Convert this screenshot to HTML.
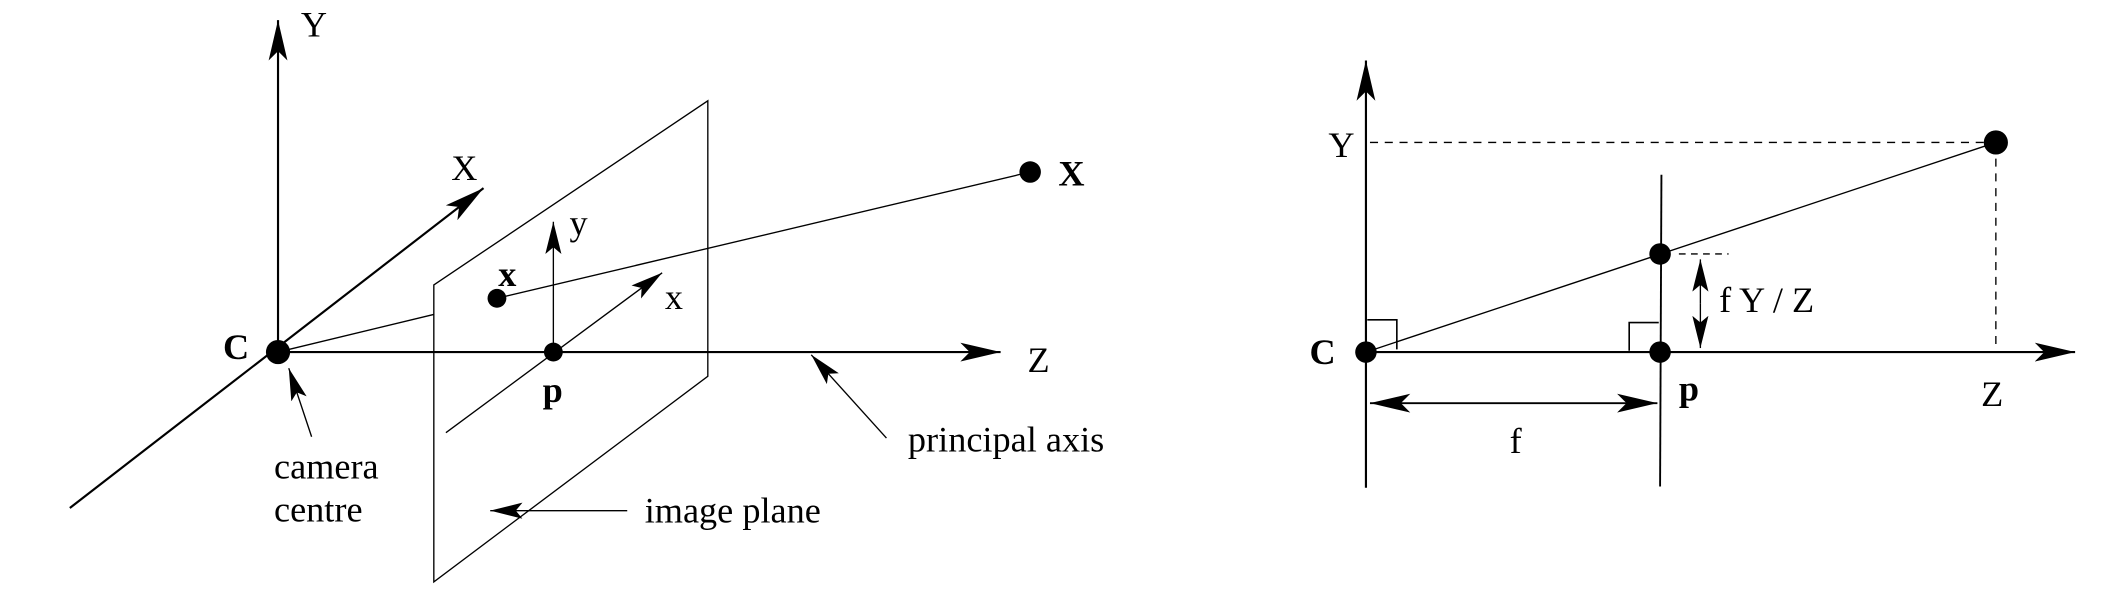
<!DOCTYPE html>
<html><head><meta charset="utf-8"><style>
html,body{margin:0;padding:0;background:#fff;}
svg{display:block;}
text{font-family:"Liberation Serif",serif;fill:#000;}
</style></head><body>
<svg width="2106" height="598" viewBox="0 0 1568 445" preserveAspectRatio="none" xmlns="http://www.w3.org/2000/svg">
<defs>
<marker id="ah" viewBox="0 0 30 14" refX="30" refY="7" markerWidth="30" markerHeight="14" markerUnits="userSpaceOnUse" orient="auto">
<path d="M0,0 L30,7 L0,14 L7,7 Z" fill="#000"/></marker>
<marker id="ahs" viewBox="0 0 24 12" refX="24" refY="6" markerWidth="24" markerHeight="12" markerUnits="userSpaceOnUse" orient="auto">
<path d="M0,0 L24,6 L0,12 L5,6 Z" fill="#000"/></marker>
<marker id="ahst" viewBox="0 0 30 14" refX="0" refY="7" markerWidth="30" markerHeight="14" markerUnits="userSpaceOnUse" orient="auto">
<path d="M30,0 L0,7 L30,14 L23,7 Z" fill="#000"/></marker>
</defs>

<g>
<polygon points="323,212 527,75 527,280 323,433" fill="none" stroke="#000" stroke-width="1"/>
<line x1="207" y1="262" x2="207" y2="15" stroke="#000" stroke-width="1.6" marker-end="url(#ah)"/>
<line x1="52" y1="378" x2="360" y2="140" stroke="#000" stroke-width="1.6" marker-end="url(#ah)"/>
<line x1="207" y1="262" x2="745" y2="262" stroke="#000" stroke-width="1.6" marker-end="url(#ah)"/>
<line x1="207" y1="262" x2="323" y2="234" stroke="#000" stroke-width="1"/>
<line x1="370" y1="222" x2="767" y2="128" stroke="#000" stroke-width="1"/>
<line x1="412" y1="262" x2="412" y2="165" stroke="#000" stroke-width="1" marker-end="url(#ahs)"/>
<line x1="332" y1="322" x2="493" y2="203" stroke="#000" stroke-width="1" marker-end="url(#ahs)"/>
<line x1="232" y1="325" x2="215" y2="274" stroke="#000" stroke-width="1" marker-end="url(#ahs)"/>
<line x1="660" y1="326" x2="604" y2="264" stroke="#000" stroke-width="1" marker-end="url(#ahs)"/>
<line x1="467" y1="380" x2="365" y2="380" stroke="#000" stroke-width="1" marker-end="url(#ahs)"/>
<circle cx="207" cy="262" r="9" fill="#000"/>
<circle cx="412" cy="262" r="7" fill="#000"/>
<circle cx="370" cy="222" r="7" fill="#000"/>
<circle cx="767" cy="128" r="8" fill="#000"/>
<text x="224" y="27" font-size="27">Y</text>
<text x="336" y="134" font-size="27">X</text>
<text x="765" y="277" font-size="27">Z</text>
<text x="166" y="267" font-size="27" font-weight="bold">C</text>
<text x="404" y="299" font-size="27" font-weight="bold">p</text>
<text x="371" y="213" font-size="27" font-weight="bold">x</text>
<text x="788" y="138" font-size="27" font-weight="bold">X</text>
<text x="424" y="175" font-size="27">y</text>
<text x="495" y="230" font-size="27">x</text>
<text x="204" y="356" font-size="27">camera</text>
<text x="204" y="388" font-size="27">centre</text>
<text x="676" y="336" font-size="27">principal axis</text>
<text x="480" y="389" font-size="27">image plane</text>
</g>

<g>
<line x1="1017" y1="363" x2="1017" y2="45" stroke="#000" stroke-width="1.6" marker-end="url(#ah)"/>
<line x1="1017" y1="262" x2="1545" y2="262" stroke="#000" stroke-width="1.6" marker-end="url(#ah)"/>
<line x1="1237" y1="130" x2="1236" y2="362" stroke="#000" stroke-width="1.4"/>
<line x1="1020" y1="106" x2="1478" y2="106" stroke="#000" stroke-width="1" stroke-dasharray="6,5"/>
<line x1="1486" y1="118" x2="1486" y2="256" stroke="#000" stroke-width="1" stroke-dasharray="6,5"/>
<line x1="1250" y1="189" x2="1287" y2="189" stroke="#000" stroke-width="1" stroke-dasharray="5,4"/>
<line x1="1017" y1="262" x2="1486" y2="106" stroke="#000" stroke-width="1"/>
<polyline points="1018,238 1040,238 1040,260" fill="none" stroke="#000" stroke-width="1.2"/>
<polyline points="1213,261 1213,240 1235,240" fill="none" stroke="#000" stroke-width="1.2"/>
<line x1="1266" y1="226" x2="1266" y2="193" stroke="#000" stroke-width="1" marker-end="url(#ahs)"/>
<line x1="1266" y1="226" x2="1266" y2="259" stroke="#000" stroke-width="1" marker-end="url(#ahs)"/>
<line x1="1020" y1="300" x2="1234" y2="300" stroke="#000" stroke-width="1.4" marker-start="url(#ahst)" marker-end="url(#ah)"/>
<circle cx="1017" cy="262" r="8" fill="#000"/>
<circle cx="1236" cy="262" r="8" fill="#000"/>
<circle cx="1236" cy="189" r="8" fill="#000"/>
<circle cx="1486" cy="106" r="9" fill="#000"/>
<text x="989" y="117" font-size="27">Y</text>
<text x="975" y="271" font-size="27" font-weight="bold">C</text>
<text x="1250" y="298" font-size="27" font-weight="bold">p</text>
<text x="1475" y="302" font-size="27">Z</text>
<text x="1280" y="232" font-size="27">f Y / Z</text>
<text x="1124" y="337" font-size="27">f</text>
</g>
</svg>
</body></html>
